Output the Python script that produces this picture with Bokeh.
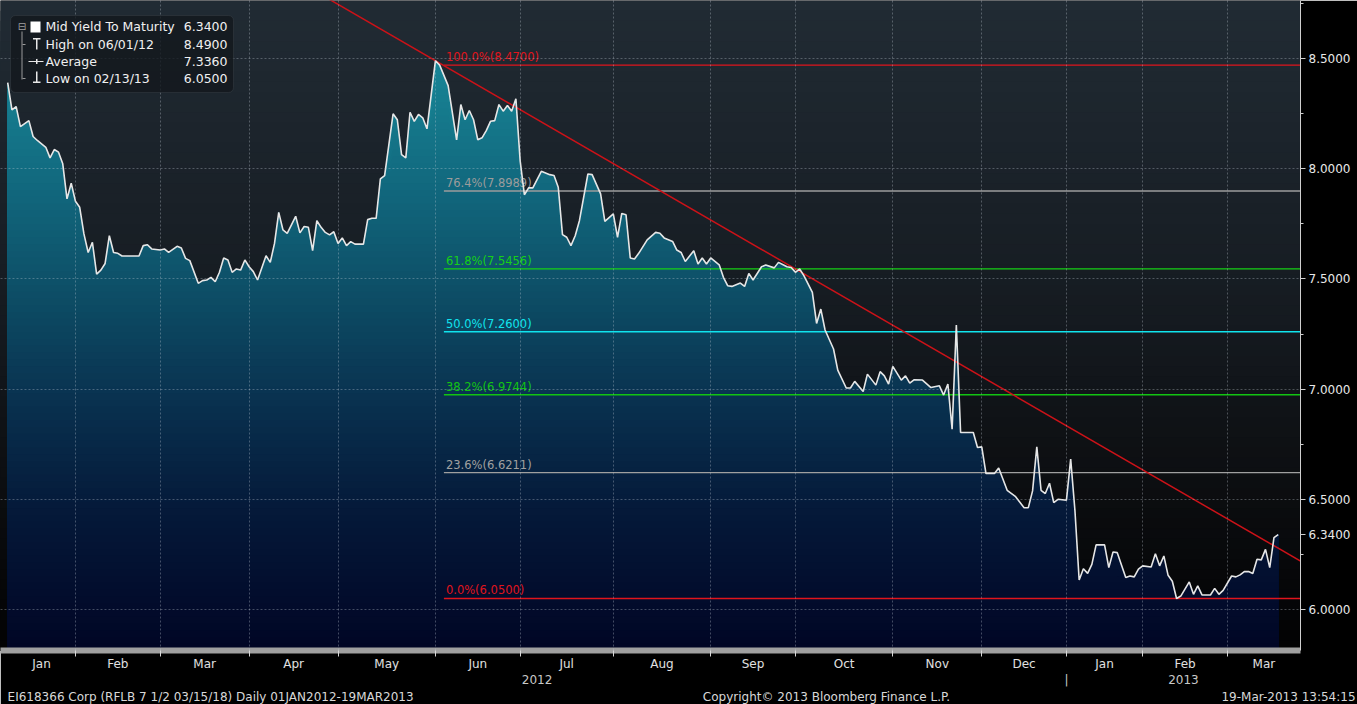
import numpy as np
from bokeh.plotting import figure
from bokeh.models import (Range1d, FixedTicker, LinearAxis, Label, BoxAnnotation,
                          PrintfTickFormatter, ColumnDataSource)
from bokeh.core.properties import value
from bokeh.embed import file_html
from bokeh.resources import INLINE

# ---------------- data ----------------
DATES = [
    "2012-01-10", "2012-01-11", "2012-01-12", "2012-01-13", "2012-01-17", "2012-01-18", "2012-01-19", "2012-01-23", "2012-01-24", "2012-01-25", "2012-01-26", "2012-01-27", "2012-01-30", "2012-01-31",
    "2012-02-01", "2012-02-02", "2012-02-03", "2012-02-06", "2012-02-07", "2012-02-08", "2012-02-09", "2012-02-10", "2012-02-13", "2012-02-14", "2012-02-15", "2012-02-16", "2012-02-22", "2012-02-24", "2012-02-27", "2012-02-28",
    "2012-03-01", "2012-03-02", "2012-03-05", "2012-03-07", "2012-03-09", "2012-03-12", "2012-03-13", "2012-03-15", "2012-03-16", "2012-03-19", "2012-03-20", "2012-03-21", "2012-03-22", "2012-03-23", "2012-03-26", "2012-03-27", "2012-03-28", "2012-03-29", "2012-03-30",
    "2012-04-02", "2012-04-03", "2012-04-04", "2012-04-06", "2012-04-09", "2012-04-10", "2012-04-11", "2012-04-12", "2012-04-13", "2012-04-17", "2012-04-18", "2012-04-19", "2012-04-20", "2012-04-23", "2012-04-24", "2012-04-25", "2012-04-26", "2012-04-27", "2012-04-30",
    "2012-05-01", "2012-05-02", "2012-05-03", "2012-05-04", "2012-05-07", "2012-05-09", "2012-05-10", "2012-05-11", "2012-05-14", "2012-05-15", "2012-05-16", "2012-05-18", "2012-05-21", "2012-05-22", "2012-05-23", "2012-05-24", "2012-05-25", "2012-05-28", "2012-05-29", "2012-05-30",
    "2012-06-01", "2012-06-04", "2012-06-06", "2012-06-08", "2012-06-11", "2012-06-13", "2012-06-14", "2012-06-15", "2012-06-18", "2012-06-19", "2012-06-20", "2012-06-21", "2012-06-22", "2012-06-25", "2012-06-26", "2012-06-27", "2012-06-28", "2012-06-29",
    "2012-07-02", "2012-07-03", "2012-07-04", "2012-07-05", "2012-07-09", "2012-07-11", "2012-07-12", "2012-07-13", "2012-07-16", "2012-07-17", "2012-07-18", "2012-07-19", "2012-07-20", "2012-07-24", "2012-07-25", "2012-07-27", "2012-07-30",
    "2012-08-01", "2012-08-02", "2012-08-03", "2012-08-06", "2012-08-07", "2012-08-08", "2012-08-09", "2012-08-13", "2012-08-15", "2012-08-16", "2012-08-17", "2012-08-21", "2012-08-22", "2012-08-23", "2012-08-24", "2012-08-28", "2012-08-29", "2012-08-30", "2012-08-31",
    "2012-09-03", "2012-09-05", "2012-09-06", "2012-09-07", "2012-09-10", "2012-09-12", "2012-09-13", "2012-09-14", "2012-09-17", "2012-09-19", "2012-09-20", "2012-09-24", "2012-09-25", "2012-09-27", "2012-09-28",
    "2012-10-01", "2012-10-02", "2012-10-03", "2012-10-05", "2012-10-08", "2012-10-09", "2012-10-10", "2012-10-12", "2012-10-15", "2012-10-17", "2012-10-18", "2012-10-19", "2012-10-23", "2012-10-24", "2012-10-26", "2012-10-29", "2012-10-30", "2012-10-31",
    "2012-11-01", "2012-11-06", "2012-11-07", "2012-11-08", "2012-11-09", "2012-11-13", "2012-11-15", "2012-11-19", "2012-11-20", "2012-11-21", "2012-11-22", "2012-11-23", "2012-11-26", "2012-11-29", "2012-11-30",
    "2012-12-03", "2012-12-04", "2012-12-06", "2012-12-07", "2012-12-11", "2012-12-13", "2012-12-17", "2012-12-18", "2012-12-19", "2012-12-20", "2012-12-21", "2012-12-24", "2012-12-25", "2012-12-26", "2012-12-27",
    "2013-01-08", "2013-01-09", "2013-01-10", "2013-01-11", "2013-01-14", "2013-01-15", "2013-01-16", "2013-01-17", "2013-01-21", "2013-01-22", "2013-01-23", "2013-01-24", "2013-01-28", "2013-01-29", "2013-01-30", "2013-01-31",
    "2013-02-01", "2013-02-05", "2013-02-06", "2013-02-07", "2013-02-08", "2013-02-11", "2013-02-12", "2013-02-13", "2013-02-14", "2013-02-18", "2013-02-19", "2013-02-20", "2013-02-21", "2013-02-25", "2013-02-26", "2013-02-27", "2013-02-28",
    "2013-03-04", "2013-03-05", "2013-03-06", "2013-03-07", "2013-03-08", "2013-03-11", "2013-03-12", "2013-03-13", "2013-03-14", "2013-03-15", "2013-03-18", "2013-03-19",
]
YIELDS = [
    8.39, 8.267, 8.282, 8.191, 8.218, 8.146, 8.128, 8.097, 8.049, 8.087, 8.075, 8.022, 7.863, 7.934,
    7.852, 7.825, 7.704, 7.62, 7.666, 7.522, 7.54, 7.57, 7.696, 7.62, 7.616, 7.604, 7.604, 7.651, 7.655, 7.636,
    7.631, 7.636, 7.62, 7.648, 7.64, 7.593, 7.583, 7.48, 7.492, 7.495, 7.507, 7.487, 7.53, 7.595, 7.586, 7.53, 7.545, 7.54, 7.586,
    7.555, 7.533, 7.495, 7.605, 7.575, 7.661, 7.802, 7.722, 7.707, 7.784, 7.709, 7.738, 7.734, 7.628, 7.764, 7.734, 7.711, 7.70, 7.714,
    7.661, 7.686, 7.651, 7.669, 7.658, 7.658, 7.769, 7.775, 7.775, 7.954, 7.969, 8.249, 8.222, 8.064, 8.049, 8.256, 8.215, 8.246, 8.231, 8.181,
    8.49, 8.47, 8.377, 8.131, 8.291, 8.222, 8.264, 8.222, 8.131, 8.14, 8.173, 8.215, 8.218, 8.291, 8.261, 8.287, 8.261, 8.317,
    8.037, 7.882, 7.913, 7.913, 7.988, 7.973, 7.969, 7.916, 7.701, 7.689, 7.651, 7.696, 7.764, 7.976, 7.973, 7.886, 7.761,
    7.795, 7.689, 7.797, 7.791, 7.595, 7.59, 7.616, 7.677, 7.711, 7.707, 7.686, 7.67, 7.631, 7.62, 7.579, 7.628, 7.568, 7.595, 7.568,
    7.595, 7.564, 7.507, 7.469, 7.466, 7.481, 7.466, 7.525, 7.495, 7.555, 7.563, 7.55, 7.575, 7.555, 7.552,
    7.53, 7.545, 7.515, 7.439, 7.298, 7.363, 7.268, 7.182, 7.086, 7.005, 7.005, 7.035, 6.989, 7.068, 7.018, 7.079, 7.06, 7.023,
    7.103, 7.041, 7.06, 7.027, 7.042, 7.041, 7.007, 7.015, 6.973, 7.023, 6.818, 7.291, 6.803, 6.803, 6.735,
    6.738, 6.617, 6.617, 6.642, 6.541, 6.512, 6.462, 6.462, 6.538, 6.738, 6.541, 6.526, 6.573, 6.485, 6.5,
    6.496, 6.682, 6.45, 6.134, 6.185, 6.164, 6.205, 6.293, 6.293, 6.19, 6.261, 6.258, 6.145, 6.152, 6.148, 6.183,
    6.198, 6.193, 6.253, 6.198, 6.243, 6.155, 6.128, 6.05, 6.061, 6.125, 6.069, 6.107, 6.066, 6.066, 6.096, 6.069, 6.087,
    6.152, 6.148, 6.157, 6.172, 6.172, 6.163, 6.228, 6.225, 6.273, 6.19, 6.326, 6.34,
]
assert len(DATES) == len(YIELDS)

FIRST_DAY = "2012-01-10"
HOLIDAYS = ["2012-02-23", "2012-03-08", "2012-06-12", "2012-11-05", "2012-12-31",
            "2013-01-01", "2013-01-02", "2013-01-03", "2013-01-04", "2013-01-07"]

MONTHS = ["Jan", "Feb", "Mar", "Apr", "May", "Jun", "Jul", "Aug", "Sep", "Oct", "Nov", "Dec",
          "Jan", "Feb", "Mar"]
MONTH_STARTS = ["2012-01-01", "2012-02-01", "2012-03-01", "2012-04-01", "2012-05-01", "2012-06-01",
                "2012-07-01", "2012-08-01", "2012-09-01", "2012-10-01", "2012-11-01", "2012-12-01",
                "2013-01-01", "2013-02-01", "2013-03-01"]
YEARS = ["2012", "2013"]
YEAR_STARTS = ["2012-01-01", "2013-01-01"]

Y_TICKS = [6.0, 6.5, 7.0, 7.5, 8.0, 8.5]
Y_MINOR = [5.75, 6.25, 6.75, 7.25, 7.75, 8.25, 8.75]

FIB_NAMES = ["100.0%", "76.4%", "61.8%", "50.0%", "38.2%", "23.6%", "0.0%"]
FIB_LEVELS = [8.47, 7.8989, 7.5456, 7.26, 6.9744, 6.6211, 6.05]
FIB_COLORS = ["#e0141c", "#9c9c9c", "#16d016", "#10e4ee", "#12c412", "#a0a0a0", "#e0141c"]
FIB_START = "2012-06-05"

TREND_A = ("2012-06-01", 8.49)
TREND_B = ("2013-03-19", 6.278)

LEGEND_NAMES = ["Mid Yield To Maturity", "High on 06/01/12", "Average", "Low on 02/13/13"]
LEGEND_VALUES = ["6.3400", "8.4900", "7.3360", "6.0500"]
LAST_VALUE = 6.34

FOOTER = ["EI618366 Corp (RFLB 7 1/2 03/15/18)  Daily 01JAN2012-19MAR2013",
          "Copyright\u00a9 2013 Bloomberg Finance L.P.",
          "19-Mar-2013 13:54:15"]

# ---------------- helpers ----------------
def tday(d):
    c = np.busday_count(np.datetime64(FIRST_DAY), np.array(d, dtype="datetime64[D]"),
                        holidays=HOLIDAYS)
    return np.maximum(c, 0).astype(float)


x = tday(DATES)
yv = np.array(YIELDS, dtype=float)

W, H = 1357, 704
FRAME_W, FRAME_H = 1300, 650
PX_PER_DAY = 4.235
PX_PER_UNIT = 220.4
X0 = -7.2 / PX_PER_DAY
X1 = X0 + FRAME_W / PX_PER_DAY
Y1 = 8.5 + 58 / PX_PER_UNIT
Y0 = Y1 - FRAME_H / PX_PER_UNIT
FONT = "DejaVu Sans"


def sx(px):
    return X0 + px / PX_PER_DAY


def sy(py):
    return Y1 - py / PX_PER_UNIT


def grad(stops, f):
    fs = [s[0] for s in stops]
    rgb = [int(round(np.interp(f, fs, [s[1][i] for s in stops]))) for i in range(3)]
    return "#%02x%02x%02x" % tuple(rgb)


BG_STOPS = [(0.0, (33, 43, 52)), (0.45, (22, 28, 34)), (0.72, (13, 15, 18)), (1.0, (2, 2, 3))]
FILL_STOPS = [(0.0, (26, 142, 160)), (0.09, (24, 134, 151)), (0.30, (17, 102, 124)),
              (0.45, (13, 78, 102)), (0.61, (9, 50, 80)), (0.77, (5, 27, 59)),
              (0.92, (2, 12, 44)), (1.0, (1, 6, 36))]

p = figure(frame_width=FRAME_W, frame_height=FRAME_H,
           x_range=Range1d(X0, X1), y_range=Range1d(Y0, Y1),
           y_axis_location="right", output_backend="svg", toolbar_location=None,
           min_border_left=0, min_border_top=0, min_border_right=W - FRAME_W,
           min_border_bottom=H - FRAME_H,
           background_fill_color="#000000", border_fill_color="#000000",
           outline_line_color=None)

# background gradient
nb = 64
step_b = (Y1 - Y0) / nb
tops_b = np.linspace(Y1, Y0, nb + 1)[:-1]
bg = ColumnDataSource(dict(
    left=[X0 - 2] * nb, right=[X1 + 2] * nb, bottom=[Y0 - 1] * nb, top=tops_b,
    color=[grad(BG_STOPS, (Y1 - (t - step_b / 2)) / (Y1 - Y0)) for t in tops_b]))
p.quad(left="left", right="right", bottom="bottom", top="top", fill_color="color",
       line_color=None, source=bg)

# area fill gradient
nf = 96
step_f = (Y1 - Y0) / nf
levels = np.linspace(Y1, Y0, nf + 1)[:-1]
pxs, pys, pcs = [], [], []
for L in levels:
    if L - step_f > yv.max():
        continue
    pxs.append(np.concatenate([x, [x[-1], x[0]]]))
    pys.append(np.concatenate([np.minimum(yv, L), [Y0 - 1, Y0 - 1]]))
    pcs.append(grad(FILL_STOPS, (Y1 - (L - step_f / 2)) / (Y1 - Y0)))
p.patches(xs=pxs, ys=pys, fill_color=pcs, line_color=None)

# fibonacci levels
fx = float(tday([FIB_START])[0])
p.segment(x0=[fx] * len(FIB_LEVELS), y0=FIB_LEVELS, x1=[X1 + 2] * len(FIB_LEVELS),
          y1=FIB_LEVELS, line_color=FIB_COLORS, line_width=1.4)
fib_src = ColumnDataSource(dict(
    x=[fx] * len(FIB_LEVELS), y=FIB_LEVELS,
    t=["%s(%.4f)" % (n, v) for n, v in zip(FIB_NAMES, FIB_LEVELS)], c=FIB_COLORS))
p.text(x="x", y="y", text="t", text_color="c", source=fib_src, x_offset=2, y_offset=-1,
       text_font=value(FONT), text_font_size="11.5px", text_baseline="bottom")

# trend line through two anchors
ax_, bx_ = tday([TREND_A[0], TREND_B[0]])
g = (TREND_B[1] - TREND_A[1]) / (bx_ - ax_)
b0 = TREND_A[1] - g * ax_
p.segment(x0=[X0 - 2], y0=[b0 + g * (X0 - 2)], x1=[X1 + 2], y1=[b0 + g * (X1 + 2)],
          line_color="#cc1218", line_width=1.5)

# series line
p.line(x, yv, line_color="#e6e6e6", line_width=1.6)

# ---------------- axes & grids ----------------
mb = tday(MONTH_STARTS)
edges = list(mb) + [X1]
centers = [float((edges[i] + edges[i + 1]) / 2) for i in range(len(MONTHS))]
xa = p.xaxis[0]
xa.ticker = FixedTicker(ticks=centers, minor_ticks=[float(v) for v in mb[1:]])
xa.major_label_overrides = {c: m for c, m in zip(centers, MONTHS)}
xa.major_tick_out = 0
xa.major_tick_in = 0
xa.minor_tick_out = 6
xa.minor_tick_in = 0
xa.minor_tick_line_color = "#d8d8d8"
xa.axis_line_color = "#a0a0a0"
xa.axis_line_width = 6
xa.major_label_text_color = "#e0e0e0"
xa.major_label_text_font = FONT
xa.major_label_text_font_size = "12px"
xa.major_label_standoff = 0

yb = tday(YEAR_STARTS)
yedges = list(yb) + [X1]
ycenters = [float((yedges[i] + yedges[i + 1]) / 2) for i in range(len(YEARS))]
yticks = ycenters + [float(v) for v in yb[1:]]
ylabels = YEARS + ["|"] * (len(yb) - 1)
year_axis = LinearAxis(
    ticker=FixedTicker(ticks=yticks, minor_ticks=[]),
    major_label_overrides={t: s for t, s in zip(yticks, ylabels)},
    axis_line_color=None, major_tick_out=0, major_tick_in=0,
    minor_tick_out=0, minor_tick_in=0,
    major_label_text_color="#c8c8c8", major_label_text_font=FONT,
    major_label_text_font_size="12px", major_label_standoff=-1)
p.add_layout(year_axis, "below")

# footer line, placed as centred labels of a bare axis
fpos = [sx(212), sx(826), sx(1288)]
footer_axis = LinearAxis(
    ticker=FixedTicker(ticks=fpos, minor_ticks=[]),
    major_label_overrides={t: s for t, s in zip(fpos, FOOTER)},
    axis_line_color=None, major_tick_out=0, major_tick_in=0,
    minor_tick_out=0, minor_tick_in=0,
    major_label_text_color="#d8d8d8", major_label_text_font=FONT,
    major_label_text_font_size="12px", major_label_standoff=0)
p.add_layout(footer_axis, "below")

ya = p.yaxis[0]
yt = Y_TICKS + [LAST_VALUE]
ya.ticker = FixedTicker(ticks=yt, minor_ticks=Y_MINOR)
ya.formatter = PrintfTickFormatter(format="%.4f")
ya.axis_line_color = "#d0d0d0"
ya.major_tick_line_color = "#d0d0d0"
ya.major_tick_out = 5
ya.major_tick_in = 0
ya.minor_tick_line_color = "#d0d0d0"
ya.minor_tick_out = 3
ya.minor_tick_in = 0
ya.major_label_text_color = "#e8e8e8"
ya.major_label_text_font = FONT
ya.major_label_text_font_size = "12px"
ya.major_label_standoff = 3

p.xgrid.ticker = FixedTicker(ticks=[float(v) for v in mb[1:]])
p.ygrid.ticker = FixedTicker(ticks=Y_TICKS)
for gr in (p.xgrid[0], p.ygrid[0]):
    gr.grid_line_color = "#c8d2dc"
    gr.grid_line_alpha = 0.33
    gr.grid_line_dash = "2 2"
    gr.grid_line_width = 1
    gr.level = "guide"

# ---------------- legend box ----------------
p.add_layout(BoxAnnotation(left=sx(10), right=sx(233), top=sy(15), bottom=sy(92),
                           fill_color="#13181d", fill_alpha=0.8, line_color="#4c5258",
                           line_width=1, border_radius=5))


def bar(l, r, t, b, c="#e8e8e8"):
    p.add_layout(BoxAnnotation(left=sx(l), right=sx(r), top=sy(t), bottom=sy(b),
                               fill_color=c, fill_alpha=1, line_color=None))


bar(21, 22, 31, 79, "#9a9a9a")           # tree lines
bar(22, 25, 43.5, 44.5, "#9a9a9a")
bar(22, 25, 77.5, 78.5, "#9a9a9a")
bar(30, 40, 21, 32, "#ffffff")           # series swatch
bar(35.5, 37, 38, 49)                    # high marker
bar(32.5, 40, 37.5, 39)
bar(28, 43, 60.5, 61.5)                  # average marker
bar(35.5, 37, 58.5, 63.5)
bar(35.5, 37, 71, 82)                    # low marker
bar(32.5, 40, 81, 82.5)
p.add_layout(Label(x=sx(21.5), y=sy(26), text="\u229f", text_color="#a0a0a0",
                   text_font=FONT, text_font_size="10px", text_align="center",
                   text_baseline="middle"))

ROW_Y = [26, 44, 61, 78]
for name, val, ry in zip(LEGEND_NAMES, LEGEND_VALUES, ROW_Y):
    p.add_layout(Label(x=sx(45), y=sy(ry), text=name, text_color="#f0f0f0",
                       text_font=FONT, text_font_size="12.5px", text_baseline="middle"))
    p.add_layout(Label(x=sx(227), y=sy(ry), text=val, text_color="#f0f0f0",
                       text_font=FONT, text_font_size="12.5px", text_baseline="middle",
                       text_align="right"))

html = file_html(p, INLINE)
open("out.html", "w").write(html)
